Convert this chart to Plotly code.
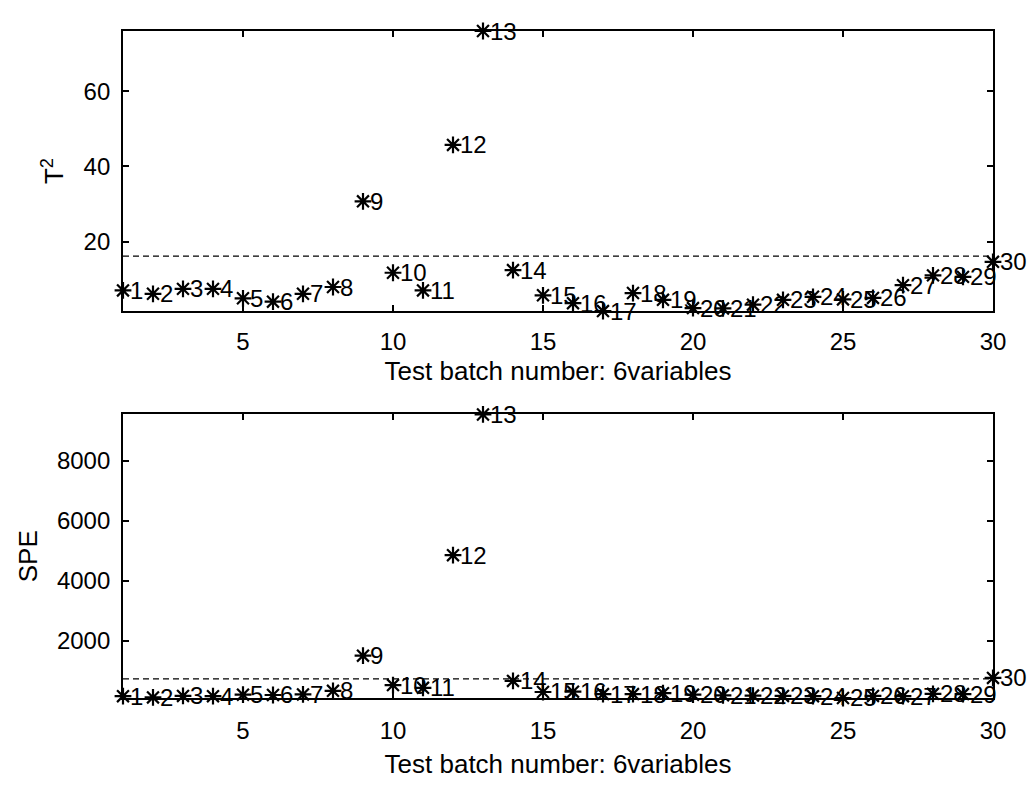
import plotly.graph_objects as go

batches = list(range(1, 31))
t2 = [7.0, 6.1, 7.4, 7.4, 4.9, 4.0, 6.1, 7.9, 30.7, 11.7, 7.0, 45.7, 76.0, 12.4,
      5.7, 3.6, 1.5, 6.3, 4.5, 2.3, 2.2, 3.2, 4.5, 5.3, 4.6, 5.0, 8.4, 11.0, 10.6, 14.6]
spe = [150, 110, 160, 150, 200, 190, 210, 330, 1500, 520, 430, 4850, 9540, 660,
       290, 300, 220, 220, 250, 200, 180, 170, 160, 150, 90, 160, 150, 230, 220, 760]
t2_limit = 16.1
spe_limit = 730
labels = [str(b) for b in batches]
xticks = [5, 10, 15, 20, 25, 30]
t2_ticks = [20, 40, 60]
spe_ticks = [2000, 4000, 6000, 8000]
xtitle = "Test batch number: 6variables"

FONT = "Liberation Sans, Arial, sans-serif"
fig = go.Figure()
annotations = []

for vals, lim, xa, ya in [(t2, t2_limit, "x", "y"), (spe, spe_limit, "x2", "y2")]:
    fig.add_trace(go.Scatter(
        x=[batches[0], batches[-1]], y=[lim, lim], mode="lines",
        line=dict(color="black", width=1.3, dash="6px,4px"),
        xaxis=xa, yaxis=ya, showlegend=False, hoverinfo="skip"))
    fig.add_trace(go.Scatter(
        x=batches, y=vals, mode="markers",
        marker=dict(symbol="asterisk-open", size=14, color="black",
                    line=dict(color="black", width=2.2)),
        cliponaxis=False, xaxis=xa, yaxis=ya, showlegend=False))
    for b, v, lab in zip(batches, vals, labels):
        annotations.append(dict(
            x=b, y=v, xref=xa, yref=ya, text=lab, showarrow=False,
            xanchor="left", yanchor="middle", xshift=5,
            font=dict(family=FONT, size=24, color="black")))

axis_common = dict(
    showline=True, linecolor="black", linewidth=1.8, mirror="ticks",
    ticks="inside", ticklen=6, tickwidth=1.5, tickcolor="black",
    showgrid=False, zeroline=False,
    tickfont=dict(family=FONT, size=24, color="black"),
)

title_font = dict(family=FONT, size=26, color="black")

fig.update_layout(
    width=1033, height=786,
    margin=dict(l=123, r=40, t=31, b=67),
    paper_bgcolor="white", plot_bgcolor="white",
    annotations=annotations,
    xaxis=dict(domain=[0, 1], range=[batches[0], batches[-1]], tickvals=xticks,
               anchor="y", ticklabelstandoff=8,
               title=dict(text=xtitle, font=title_font, standoff=8),
               **axis_common),
    yaxis=dict(domain=[0.5801, 1], range=[min(t2), max(t2)], tickvals=t2_ticks,
               anchor="x", ticklabelstandoff=6,
               title=dict(text="T<sup>2</sup>", font=title_font, standoff=12),
               **axis_common),
    xaxis2=dict(domain=[0, 1], range=[batches[0], batches[-1]], tickvals=xticks,
                anchor="y2", ticklabelstandoff=10,
                title=dict(text=xtitle, font=title_font, standoff=12),
                **axis_common),
    yaxis2=dict(domain=[0, 0.4251], range=[min(spe), max(spe)], tickvals=spe_ticks,
                anchor="x2", ticklabelstandoff=6,
                title=dict(text="SPE", font=title_font, standoff=12),
                **axis_common),
)

fig.write_html("out.html", config={"displayModeBar": False},
               post_script="document.body.style.margin='0';document.body.style.overflow='hidden';")
